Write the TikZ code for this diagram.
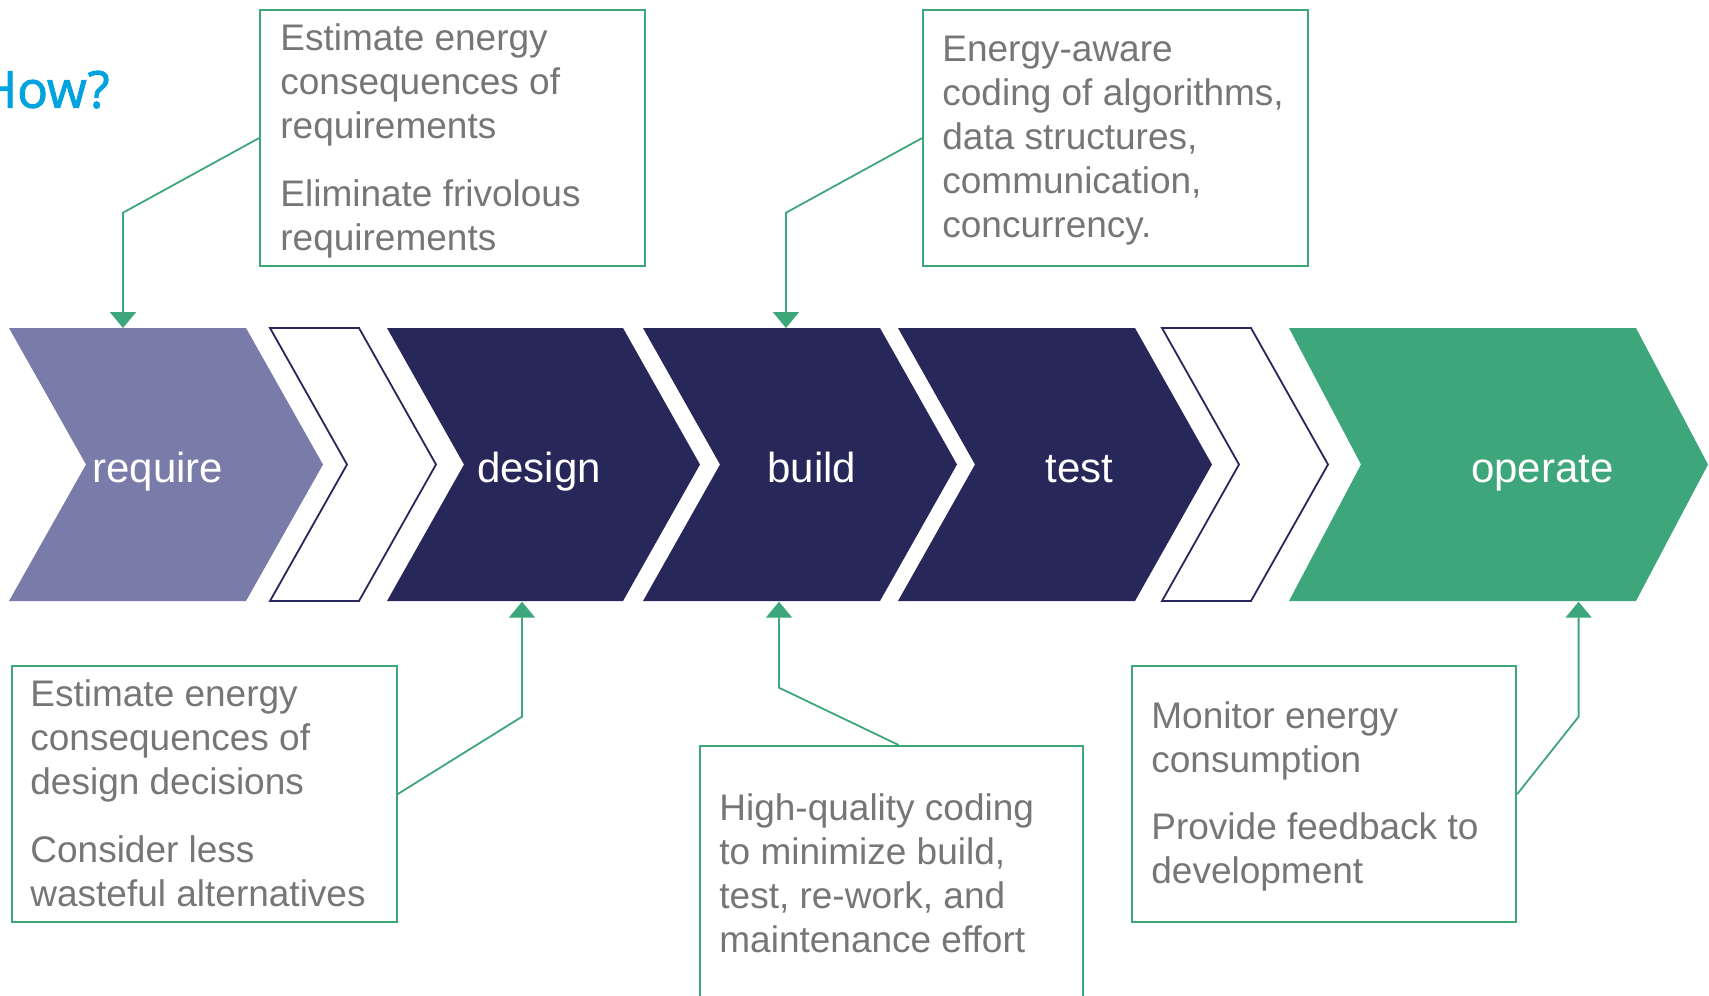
\documentclass[tikz,border=0pt]{standalone}
\usepackage{fontspec}
\setmainfont{Liberation Sans}
\newfontfamily\howfont[FakeBold=1.8]{Open Sans}
\usetikzlibrary{arrows.meta}

\definecolor{navy}{HTML}{27275A}
\definecolor{lavender}{HTML}{797BA8}
\definecolor{leaf}{HTML}{3DA67A}
\definecolor{notegray}{HTML}{767676}
\definecolor{howblue}{HTML}{00A3E0}

% chevron outline: left x, right x, depth of point/notch
\newcommand\chevronpath[3]{(#1,328) -- (#2,328) -- ({#2+#3},464.5) -- (#2,601) -- (#1,601) -- ({#1+#3},464.5) -- cycle}
% note text: stacked lines with a fixed baseline pitch
\newcommand\notelines[1]{\vtop{\baselineskip=22pt\lineskiplimit=-10pt #1}}
\newcommand\noteline[1]{\hbox{#1}}
\newcommand\notegap{\vskip 11.75pt}

\begin{document}
\begin{tikzpicture}[x=0.5pt,y=-0.5pt,
  phase/.style={text=white,font=\fontsize{21}{25}\selectfont,anchor=base,inner sep=0pt},
  notebox/.style={draw=leaf,line width=1.1pt,anchor=north west,inner sep=0pt},
  notetext/.style={text=notegray,font=\fontsize{18.5}{22}\selectfont,anchor=base west,inner sep=0pt},
  link/.style={draw=leaf,line width=0.9pt},
  linkarrow/.style={link,-{Triangle[length=8pt,width=13pt]}},
  hollow/.style={draw=navy,line width=0.9pt,fill=white}]
\useasboundingbox (0,0) rectangle (1709,996);
\clip (0,0) rectangle (1709,996);

% heading
\node[text=howblue,font=\howfont\fontsize{25.5}{30}\selectfont,anchor=base east,inner sep=0pt] (how) at (110,107.7) {How?};

% process chevrons
\fill[lavender] \chevronpath{9}{246}{77};
\path[hollow] \chevronpath{270}{359}{77};
\fill[navy] \chevronpath{387}{623}{77};
\fill[navy] \chevronpath{643}{880}{77};
\fill[navy] \chevronpath{898}{1135}{77};
\path[hollow] \chevronpath{1162}{1251}{77};
\fill[leaf] \chevronpath{1289}{1636}{72};

\node[phase] (require) at (158,482) {require};
\node[phase] (design) at (539,482) {design};
\node[phase] (build) at (812,482) {build};
\node[phase] (test) at (1079.5,482) {test};
\node[phase] (operate) at (1542.5,482) {operate};

% attachment points on the chevrons
\coordinate (reqTop) at (123,328);
\coordinate (buildTop) at (786,328);
\coordinate (designBot) at (522,601.7);
\coordinate (buildBot) at (779,601.7);
\coordinate (operateBot) at (1578.6,601.7);

% note boxes
\node[notebox,minimum width=192.5pt,minimum height=128pt] (boxA) at (259,9) {};
\node[notebox,minimum width=192.5pt,minimum height=128pt] (boxB) at (922,9) {};
\node[notebox,minimum width=192.5pt,minimum height=128pt] (boxC) at (10.5,665) {};
\node[notebox,minimum width=191.5pt,minimum height=140pt] (boxD) at (699,745) {};
\node[notebox,minimum width=192pt,minimum height=128pt] (boxE) at (1131,665) {};

\node[notetext] (textA) at (280,50.7) {\notelines{%
  \noteline{Estimate energy}\noteline{consequences of}\noteline{requirements}%
  \notegap\noteline{Eliminate frivolous}\noteline{requirements}}};
\node[notetext] (textB) at (942,61) {\notelines{%
  \noteline{Energy-aware}\noteline{coding of algorithms,}\noteline{data structures,}%
  \noteline{communication,}\noteline{concurrency.}}};
\node[notetext] (textC) at (30,706.7) {\notelines{%
  \noteline{Estimate energy}\noteline{consequences of}\noteline{design decisions}%
  \notegap\noteline{Consider less}\noteline{wasteful alternatives}}};
\node[notetext] (textD) at (719,820) {\notelines{%
  \noteline{High-quality coding}\noteline{to minimize build,}\noteline{test, re-work, and}%
  \noteline{maintenance effort}}};
\node[notetext] (textE) at (1151,728.3) {\notelines{%
  \noteline{Monitor energy}\noteline{consumption}%
  \notegap\noteline{Provide feedback to}\noteline{development}}};

% connectors
\coordinate (bendA) at (123,212.7);
\coordinate (bendB) at (786,212.7);
\coordinate (bendC) at (522,716.7);
\coordinate (bendD) at (779,687.7);
\coordinate (bendE) at (1578.6,716.7);

\draw[linkarrow] (boxA.west) -- (bendA) -- (reqTop);
\draw[linkarrow] (boxB.west) -- (bendB) -- (buildTop);
\draw[linkarrow] (boxC.east) -- (bendC) -- (designBot);
\draw[linkarrow] (boxD.north) ++(7,0) -- (bendD) -- (buildBot);
\draw[linkarrow] (boxE.east) -- (bendE) -- (operateBot);
\end{tikzpicture}
\end{document}
